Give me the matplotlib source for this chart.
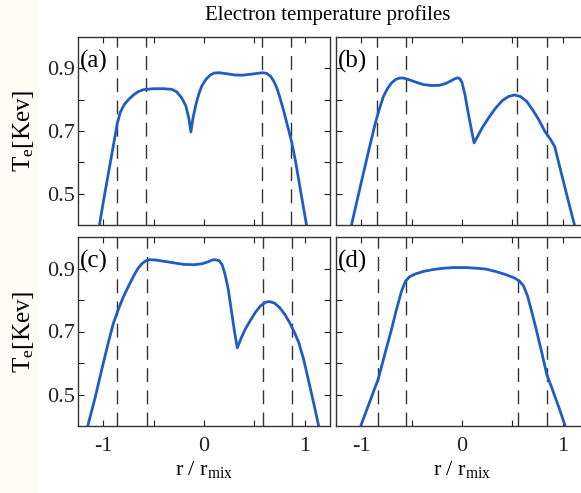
import matplotlib
matplotlib.use("Agg")
import matplotlib.pyplot as plt
from matplotlib.patches import Rectangle

plt.rcParams["font.family"] = ["Liberation Serif", "DejaVu Serif"]
plt.rcParams["mathtext.fontset"] = "custom"
plt.rcParams["mathtext.rm"] = "Liberation Serif"
plt.rcParams["mathtext.it"] = "Liberation Serif:italic"

# Te profiles for the four cases
ra = [-1.04, -0.99, -0.94, -0.89, -0.86, -0.83, -0.79, -0.75, -0.70, -0.65, -0.60, -0.50,
      -0.40, -0.32, -0.27, -0.22, -0.18, -0.15, -0.13, -0.11, -0.08, -0.05, -0.02, 0.02,
      0.06, 0.10, 0.15, 0.22, 0.30, 0.38, 0.46, 0.53, 0.58, 0.62, 0.66, 0.69, 0.72, 0.75,
      0.79, 0.83, 0.87, 0.91, 0.96, 1.02]
te_a = [0.395, 0.49, 0.58, 0.67, 0.725, 0.76, 0.785, 0.80, 0.815, 0.826, 0.832, 0.835,
        0.835, 0.833, 0.825, 0.805, 0.78, 0.74, 0.697, 0.74, 0.785, 0.82, 0.845, 0.865,
        0.878, 0.885, 0.886, 0.883, 0.879, 0.878, 0.881, 0.884, 0.886, 0.884, 0.875, 0.86,
        0.84, 0.81, 0.765, 0.715, 0.665, 0.60, 0.505, 0.395]

rb = [-1.10, -1.00, -0.92, -0.86, -0.82, -0.78, -0.74, -0.70, -0.66, -0.62, -0.58, -0.52,
      -0.45, -0.38, -0.30, -0.22, -0.16, -0.11, -0.07, -0.04, -0.02, 0.00, 0.03, 0.06,
      0.09, 0.12, 0.15, 0.20, 0.26, 0.33, 0.40, 0.46, 0.52, 0.58, 0.64, 0.70, 0.76, 0.82,
      0.88, 0.92, 0.96, 1.01, 1.06, 1.12]
te_b = [0.395, 0.535, 0.645, 0.725, 0.77, 0.81, 0.835, 0.853, 0.864, 0.869, 0.869, 0.863,
        0.855, 0.848, 0.845, 0.846, 0.852, 0.86, 0.867, 0.870, 0.866, 0.855, 0.815, 0.76,
        0.71, 0.662, 0.68, 0.71, 0.74, 0.772, 0.797, 0.810, 0.815, 0.810, 0.795, 0.768,
        0.737, 0.70, 0.672, 0.65, 0.598, 0.534, 0.47, 0.395]

rc = [-1.15, -1.08, -1.01, -0.95, -0.90, -0.85, -0.80, -0.75, -0.70, -0.66, -0.62, -0.58,
      -0.54, -0.48, -0.40, -0.30, -0.20, -0.10, -0.02, 0.04, 0.08, 0.11, 0.15, 0.18, 0.21,
      0.24, 0.27, 0.30, 0.33, 0.37, 0.41, 0.46, 0.51, 0.56, 0.61, 0.65, 0.70, 0.75, 0.80,
      0.85, 0.90, 0.94, 0.99, 1.04, 1.09, 1.135]
te_c = [0.404, 0.49, 0.585, 0.664, 0.725, 0.77, 0.81, 0.843, 0.875, 0.898, 0.914, 0.924,
        0.928, 0.927, 0.923, 0.918, 0.913, 0.912, 0.915, 0.921, 0.927, 0.928, 0.925, 0.912,
        0.88, 0.835, 0.77, 0.705, 0.648, 0.68, 0.708, 0.735, 0.761, 0.781, 0.793, 0.795,
        0.79, 0.776, 0.755, 0.728, 0.695, 0.665, 0.61, 0.54, 0.47, 0.404]

rd = [-1.00, -0.90, -0.83, -0.76, -0.70, -0.65, -0.60, -0.56, -0.52, -0.46, -0.38, -0.28,
      -0.18, -0.08, 0.04, 0.14, 0.24, 0.34, 0.44, 0.52, 0.57, 0.61, 0.65, 0.69, 0.74,
      0.79, 0.84, 0.90, 0.96, 1.02]
te_d = [0.404, 0.49, 0.55, 0.635, 0.706, 0.77, 0.828, 0.86, 0.874, 0.883, 0.891, 0.897,
        0.901, 0.903, 0.903, 0.901, 0.898, 0.89, 0.88, 0.87, 0.86, 0.845, 0.813, 0.765,
        0.702, 0.635, 0.565, 0.513, 0.46, 0.404]

# radial positions of the dashed markers
marks_a = [-0.86, -0.58, 0.58, 0.86]
marks_b = [-0.84, -0.56, 0.55, 0.84]
marks_c = [-0.86, -0.57, 0.59, 0.87]
marks_d = [-0.83, -0.56, 0.56, 0.84]

labels = ["(a)", "(b)", "(c)", "(d)"]
xticks = [-1, -0.5, 0, 0.5, 1]
xticklabels = ["-1", "", "0", "", "1"]
yticks = [0.5, 0.6, 0.7, 0.8, 0.9]
yticklabels = ["0.5", "", "0.7", "", "0.9"]

W, H = 581, 493
fig = plt.figure(figsize=(W / 100, H / 100), dpi=100)
fig.patches.append(Rectangle((0, 0), 38 / W, 1, transform=fig.transFigure,
                             color="#fefdf3", zorder=-1))

def box(x0, y0, x1, y1):
    return [x0 / W, 1 - y1 / H, (x1 - x0) / W, (y1 - y0) / H]

axes = [fig.add_axes(box(78, 37, 330, 225)),
        fig.add_axes(box(336, 37, 588, 225)),
        fig.add_axes(box(78, 237, 330, 426)),
        fig.add_axes(box(336, 237, 588, 426))]

curves = [(ra, te_a, marks_a), (rb, te_b, marks_b), (rc, te_c, marks_c), (rd, te_d, marks_d)]

for i, (ax, (r, te, marks)) in enumerate(zip(axes, curves)):
    for m in marks:
        ax.axvline(m, color="#333333", lw=1.0, dashes=(10, 6))
    ax.plot(r, te, color="#1f5cc4", lw=2.0)
    ax.set_xlim(-1.25, 1.25)
    ax.set_ylim(0.4, 1.0)
    ax.set_xticks(xticks)
    ax.set_yticks(yticks)
    ax.tick_params(direction="in", top=True, right=True, length=4, width=0.8,
                   labelsize=16, pad=2, colors="#222222")
    ax.tick_params(axis="x", pad=8)
    if i >= 2:
        ax.set_xticklabels(xticklabels)
        ax.set_xlabel(r"r / r$_{\mathrm{mix}}$", fontsize=16, labelpad=2)
    else:
        ax.set_xticklabels([])
    if i % 2 == 0:
        ax.set_yticklabels(yticklabels)
        ax.set_ylabel(r"T$_{\mathrm{e}}$[Kev]", fontsize=18)
        ax.yaxis.set_label_coords(-0.165, 0.5)
    else:
        ax.set_yticklabels([])
    for s in ax.spines.values():
        s.set_color("#333333")
        s.set_linewidth(1.0)
    ax.text(0.008, 0.93, labels[i], transform=ax.transAxes, fontsize=18,
            ha="left", va="top")

fig.text(328 / W, 1 - 15 / H, "Electron temperature profiles", fontsize=15,
         ha="center", va="center")

fig.savefig("out.png", dpi=100)
